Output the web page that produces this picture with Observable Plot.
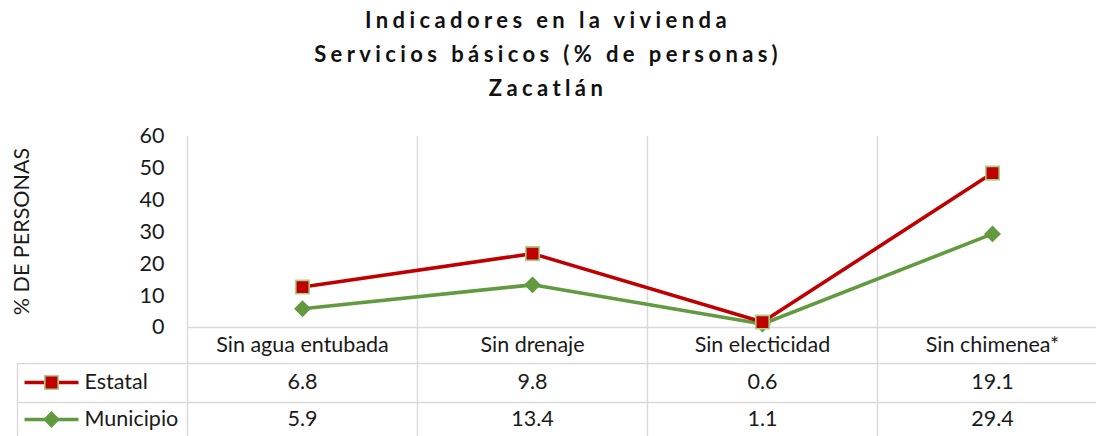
<!DOCTYPE html>
<html><head><meta charset="utf-8">
<script src="https://cdn.jsdelivr.net/npm/d3@7"></script>
<script src="https://cdn.jsdelivr.net/npm/@observablehq/plot@0.6"></script>
<style>
body{margin:0;background:#fff;}
#wrap{position:relative;width:1096px;height:436px;overflow:hidden;font-family:Lato,sans-serif;}
#title{position:absolute;top:3px;left:0;width:1096px;text-align:center;font-weight:bold;font-size:22px;letter-spacing:4.4px;line-height:34px;color:#111;}
#chart{position:absolute;top:0;left:0;}
</style></head><body>
<div id="wrap"><div id="chart"></div>
<div id="title">Indicadores en la vivienda<br>Servicios básicos (% de personas)<br>Zacatlán</div></div>
<script>
const categorias = ["Sin agua entubada", "Sin drenaje", "Sin electicidad", "Sin chimenea*"];
const estatal = [6.8, 9.8, 0.6, 19.1];
const municipio = [5.9, 13.4, 1.1, 29.4];
const series = ["Estatal", "Municipio"];
const yTicks = [0, 10, 20, 30, 40, 50, 60];
const yLabel = "% DE PERSONAS";

const colores = ["#C00000", "#629B3F"];
const grid = "#d9d9d9";

// Municipio first => stacked at the bottom; Estatal on top
const rows = [
  ...municipio.map((v, i) => ({cat: categorias[i], serie: "Municipio", value: v})),
  ...estatal.map((v, i) => ({cat: categorias[i], serie: "Estatal", value: v}))
];
const estRows = rows.filter(d => d.serie === "Estatal");
const munRows = rows.filter(d => d.serie === "Municipio");

const hline = {draw(ctx) { ctx.moveTo(-27, 0); ctx.lineTo(27, 0); }};
const fs = 21.5;

const chart = Plot.plot({
  width: 1096, height: 436,
  marginTop: 136, marginBottom: 0, marginLeft: 17, marginRight: 0,
  x: {type: "point", domain: categorias, range: [187, 1107], padding: 0.5, axis: null},
  y: {domain: [0, 60], range: [327, 136], label: null},
  color: {domain: series, range: colores},
  symbol: {domain: series, range: ["square", "diamond2"]},
  opacity: {type: "identity"},
  style: {fontFamily: "Lato, sans-serif", fontSize: fs + "px", color: "#1a1a1a", background: "transparent"},
  marks: [
    // grid / table lines
    Plot.ruleX(categorias, {x: d => d, dx: -115, stroke: grid, strokeWidth: 1.4}),
    Plot.ruleY([0], {insetLeft: 170, stroke: grid, strokeWidth: 1.4}),
    Plot.ruleY([0], {dy: 36, stroke: grid, strokeWidth: 1.4}),
    Plot.ruleY([0], {dy: 75, stroke: grid, strokeWidth: 1.4}),
    Plot.ruleX([categorias[0]], {x: d => d, dx: -285, insetTop: 227, stroke: grid, strokeWidth: 1.4}),
    // y axis
    Plot.axisY(yTicks, {anchor: "left", tickSize: 0, tickPadding: 23, dx: 170, fontSize: fs, label: null}),
    Plot.text([yLabel], {frameAnchor: "left", dx: 5, dy: -55, rotate: -90, textAnchor: "middle", fontSize: fs}),
    // stacked lines
    Plot.lineY(rows, Plot.stackY2({x: "cat", y: "value", z: "serie", stroke: "serie", strokeWidth: 3.6})),
    Plot.dot(rows, Plot.stackY2({x: "cat", y: "value", z: "serie", fill: "serie", symbol: "serie", r: 7.6,
      stroke: "#A9D18E", strokeWidth: 1.6, strokeOpacity: d => d.serie === "Estatal" ? 1 : 0})),
    // data table
    Plot.text(categorias, {x: d => d, frameAnchor: "bottom", dy: -91, lineAnchor: "middle", fontSize: fs}),
    Plot.text(estRows, {x: "cat", text: d => d.value.toFixed(1), frameAnchor: "bottom", dy: -54, lineAnchor: "middle", fontSize: fs}),
    Plot.text(munRows, {x: "cat", text: d => d.value.toFixed(1), frameAnchor: "bottom", dy: -17, lineAnchor: "middle", fontSize: fs}),
    // legend keys
    Plot.dot([series[0]], {frameAnchor: "bottom-left", dx: 34, dy: -54, symbol: hline, fill: "none", stroke: colores[0], strokeWidth: 3.6}),
    Plot.dot([series[0]], {frameAnchor: "bottom-left", dx: 34, dy: -54, symbol: "square", r: 7.6, fill: colores[0], stroke: "#A9D18E", strokeWidth: 1.6}),
    Plot.text([series[0]], {frameAnchor: "bottom-left", dx: 67, dy: -54, textAnchor: "start", lineAnchor: "middle", fontSize: fs}),
    Plot.dot([series[1]], {frameAnchor: "bottom-left", dx: 34, dy: -17, symbol: hline, fill: "none", stroke: colores[1], strokeWidth: 3.6}),
    Plot.dot([series[1]], {frameAnchor: "bottom-left", dx: 34, dy: -17, symbol: "diamond2", r: 7.6, fill: colores[1]}),
    Plot.text([series[1]], {frameAnchor: "bottom-left", dx: 67, dy: -17, textAnchor: "start", lineAnchor: "middle", fontSize: fs})
  ]
});
document.getElementById("chart").appendChild(chart);
</script>
</body></html>
